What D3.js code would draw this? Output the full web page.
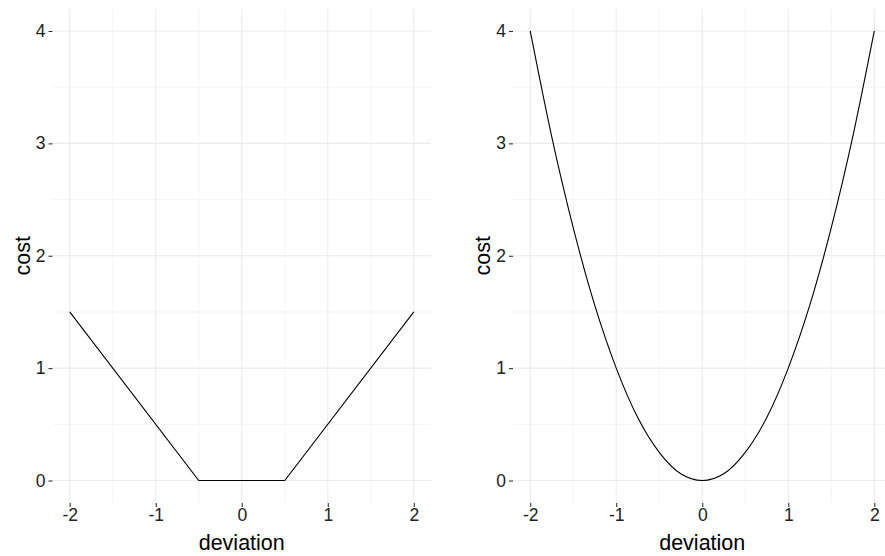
<!DOCTYPE html>
<meta charset="utf-8">
<head>
    <title>Cost of deviation</title>
    <style>
        body { margin: 0; background: #fff; }
        text { font-family: "Liberation Sans", Arial, sans-serif; }
    </style>
</head>
<body>
<script src="https://d3js.org/d3.v7.min.js"></script>
<script>
    // left panel: flat zone between -0.5 and 0.5, linear outside
    var linDev = [-2, -0.5, 0.5, 2];
    var linCost = [1.5, 0, 0, 1.5];

    // right panel: curve
    var sqDev = [-2, -1.75, -1.5, -1.25, -1, -0.75, -0.5, -0.25, 0, 0.25, 0.5, 0.75, 1, 1.25, 1.5, 1.75, 2];
    var sqCost = [4, 3.06, 2.25, 1.56, 1, 0.56, 0.25, 0.06, 0, 0.06, 0.25, 0.56, 1, 1.56, 2.25, 3.06, 4];

    var xTicks = [-2, -1, 0, 1, 2];
    var xMinor = [-1.5, -0.5, 0.5, 1.5];
    var yTicks = [0, 1, 2, 3, 4];
    var yMinor = [0.5, 1.5, 2.5, 3.5];

    var width = 885, height = 556;
    var svg = d3.select("body").append("svg")
        .attr("width", width)
        .attr("height", height);

    // panel box in pixels
    var panelTop = 8.5, panelBottom = 503;
    var panelW = 378.5;

    function drawPanel(left, xs, ys, curve) {
        var g = svg.append("g");
        var x = d3.scaleLinear().domain([-2.2, 2.2]).range([left, left + panelW]);
        var y = d3.scaleLinear().domain([-0.2, 4.2]).range([panelBottom, panelTop]);

        // minor grid
        g.selectAll(".vmin").data(xMinor).enter().append("line")
            .attr("x1", d => x(d)).attr("x2", d => x(d))
            .attr("y1", panelTop).attr("y2", panelBottom)
            .attr("stroke", "#ebebeb").attr("stroke-width", 0.55);
        g.selectAll(".hmin").data(yMinor).enter().append("line")
            .attr("y1", d => y(d)).attr("y2", d => y(d))
            .attr("x1", left).attr("x2", left + panelW)
            .attr("stroke", "#ebebeb").attr("stroke-width", 0.55);
        // major grid
        g.selectAll(".vmaj").data(xTicks).enter().append("line")
            .attr("x1", d => x(d)).attr("x2", d => x(d))
            .attr("y1", panelTop).attr("y2", panelBottom)
            .attr("stroke", "#ebebeb").attr("stroke-width", 1.1);
        g.selectAll(".hmaj").data(yTicks).enter().append("line")
            .attr("y1", d => y(d)).attr("y2", d => y(d))
            .attr("x1", left).attr("x2", left + panelW)
            .attr("stroke", "#ebebeb").attr("stroke-width", 1.1);

        // axes
        var xAxis = d3.axisBottom(x).tickValues(xTicks).tickSize(4).tickPadding(2).tickFormat(d3.format("d"));
        var gx = g.append("g").attr("transform", "translate(0," + panelBottom + ")").call(xAxis);
        var yAxis = d3.axisLeft(y).tickValues(yTicks).tickSize(4).tickPadding(3).tickFormat(d3.format("d"));
        var gy = g.append("g").attr("transform", "translate(" + left + ",0)").call(yAxis);
        [gx, gy].forEach(function(a) {
            a.select(".domain").remove();
            a.selectAll(".tick line").attr("stroke", "#333333").attr("stroke-width", 1.1);
            a.selectAll(".tick text").attr("fill", "#222")
                .style("font-size", "17.5px").style("font-family", "Liberation Sans, Arial, sans-serif");
        });
        gx.selectAll(".tick text").text(d => d < 0 ? "-" + Math.abs(d) : d);

        // line
        var pts = xs.map((d, i) => [d, ys[i]]);
        g.append("path").datum(pts)
            .attr("fill", "none").attr("stroke", "#000").attr("stroke-width", 1.1)
            .attr("d", d3.line().x(d => x(d[0])).y(d => y(d[1])).curve(curve));

        // titles
        g.append("text").attr("x", (left + left + panelW) / 2).attr("y", 550)
            .attr("text-anchor", "middle").style("font-size", "21.5px").text("deviation");
        g.append("text")
            .attr("transform", "translate(" + (left - 23) + "," + ((panelTop + panelBottom) / 2) + ") rotate(-90)")
            .attr("text-anchor", "middle").style("font-size", "21.5px").text("cost");
    }

    drawPanel(52.5, linDev, linCost, d3.curveLinear);
    drawPanel(513, sqDev, sqCost, d3.curveMonotoneX);
</script>
</body>
</html>
